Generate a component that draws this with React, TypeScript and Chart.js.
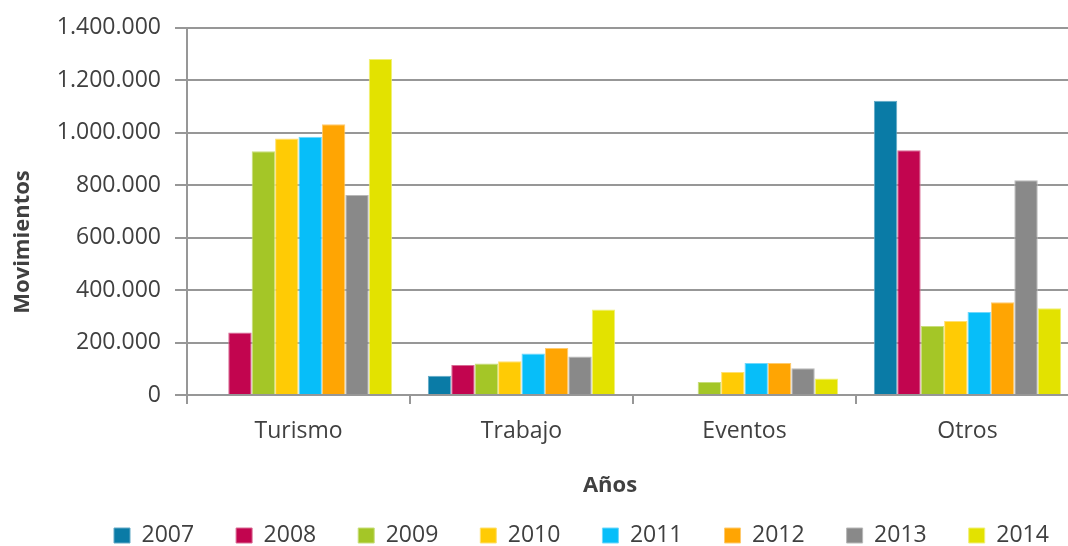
import React, { useEffect, useRef } from "react";
import { Chart, registerables } from "chart.js";

Chart.register(...registerables);

const categories = ["Turismo", "Trabajo", "Eventos", "Otros"];
const years = ["2007", "2008", "2009", "2010", "2011", "2012", "2013", "2014"];

const v2007 = [3000, 73000, 0, 1122000];
const v2008 = [238000, 114000, 4000, 933000];
const v2009 = [929000, 120000, 50000, 263000];
const v2010 = [978000, 129000, 88000, 282000];
const v2011 = [985000, 158000, 122000, 316000];
const v2012 = [1032000, 179000, 122000, 354000];
const v2013 = [763000, 147000, 102000, 819000];
const v2014 = [1281000, 326000, 63000, 331000];

const seriesValues = [v2007, v2008, v2009, v2010, v2011, v2012, v2013, v2014];
const fillColors = ["#0A7BA6", "#C2054F", "#A4C627", "#FFCB05", "#07BEF9", "#FFA503", "#898989", "#E3E200"];
const edgeColors = ["#62A9C6", "#D86A93", "#C8DE7A", "#FFE070", "#70D8FB", "#FFCB6E", "#B8B8B8", "#F0EF78"];

const yTicks = [0, 200000, 400000, 600000, 800000, 1000000, 1200000, 1400000];
const xTitle = "Años";
const yTitle = "Movimientos";

const FONT = "'Open Sans', 'Noto Sans', sans-serif";
const TEXT = "#404040";
const GRID = "#979797";

const fmt = (v: number) => String(Math.round(v)).replace(/\B(?=(\d{3})+(?!\d))/g, ".");

const layoutPlugin = {
  id: "customLayout",
  afterLayout(chart: any) {
    const lg = chart.legend;
    if (!lg || !lg.lineWidths) return;
    const pad = lg.options.labels.padding;
    const start = (lg.left + pad + lg.right - lg.lineWidths[0]) / 2;
    const shift = 114 - start;
    lg.left += shift;
    lg.right += shift;
    lg.top = 524 - pad;
    lg.bottom = 546;
    lg.height = lg.bottom - lg.top;
  },
  afterDraw(chart: any) {
    const ctx = chart.ctx;
    ctx.save();
    ctx.fillStyle = TEXT;
    ctx.font = `bold 22px ${FONT}`;
    ctx.textAlign = "center";
    ctx.textBaseline = "middle";
    ctx.fillText(xTitle, 610, 486);
    ctx.translate(23, 242);
    ctx.rotate(-Math.PI / 2);
    ctx.fillText(yTitle, 0, 0);
    ctx.restore();
  },
};

export default function App() {
  const ref = useRef<HTMLCanvasElement | null>(null);
  useEffect(() => {
    if (!ref.current) return;
    const chart = new Chart(ref.current, {
      type: "bar",
      data: {
        labels: categories,
        datasets: years.map((y, i) => ({
          label: y,
          data: seriesValues[i],
          backgroundColor: fillColors[i],
          borderColor: edgeColors[i],
          borderWidth: 1,
          categoryPercentage: 0.84,
          barPercentage: 1,
        })),
      },
      options: {
        responsive: false,
        animation: false,
        layout: { padding: { top: 26, left: 0, right: 1, bottom: 0 } },
        plugins: {
          tooltip: { enabled: false },
          title: { display: false },
          legend: {
            display: true,
            position: "bottom",
            maxHeight: 40,
            labels: {
              boxWidth: 16,
              boxHeight: 15,
              padding: 42,
              color: TEXT,
              font: { family: FONT, size: 23 },
            },
          } as any,
        },
        scales: {
          x: {
            type: "category",
            offset: true,
            grid: {
              display: true,
              drawOnChartArea: false,
              drawTicks: true,
              tickLength: 9,
              color: GRID,
              lineWidth: 2,
              offset: true,
            },
            border: { display: true, color: GRID, width: 2 },
            ticks: { color: TEXT, font: { family: FONT, size: 23 }, padding: 14 },
            afterFit: (s: any) => {
              s.height = 111;
            },
          },
          y: {
            min: 0,
            max: 1400000,
            afterBuildTicks: (s: any) => {
              s.ticks = yTicks.map((v) => ({ value: v }));
            },
            grid: { color: GRID, lineWidth: 2, tickLength: 12, drawTicks: true },
            border: { display: true, color: GRID, width: 2 },
            ticks: {
              color: TEXT,
              font: { family: FONT, size: 23 },
              padding: 14,
              callback: (v: any) => fmt(Number(v)),
            },
            afterFit: (s: any) => {
              s.width = 187;
            },
          },
        },
      } as any,
      plugins: [layoutPlugin],
    });
    return () => chart.destroy();
  }, []);

  return (
    <div style={{ position: "fixed", left: 0, top: 0, width: 1068, height: 546, overflow: "hidden", background: "#fff" }}>
      <canvas ref={ref} width={1080} height={546} style={{ display: "block" }} />
    </div>
  );
}
